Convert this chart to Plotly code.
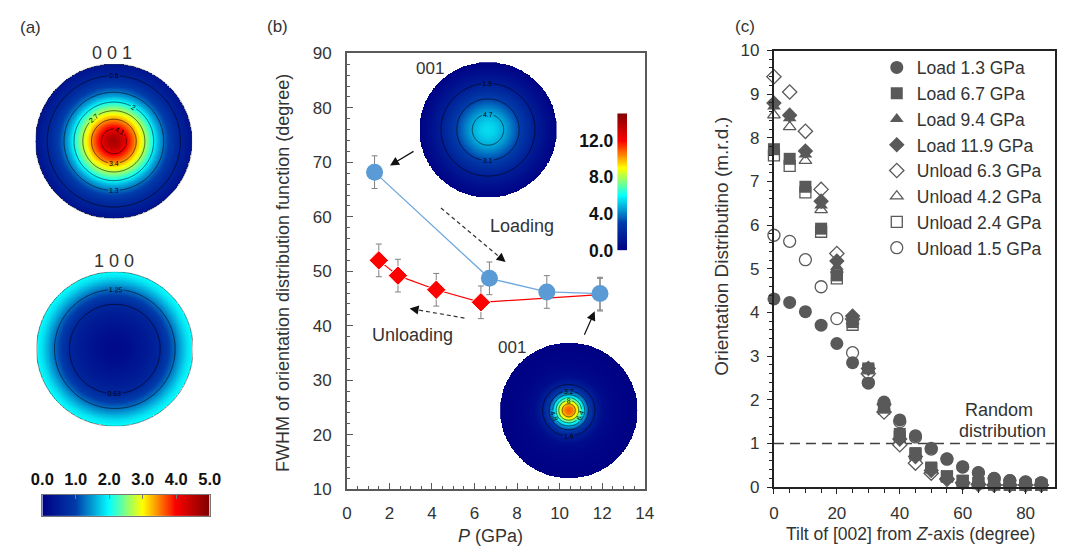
import numpy as np
import plotly.graph_objects as go

W, H = 1067, 558
def fx(p): return p / W
def fy(p): return 1 - p / H

FONT = "Arial, 'Liberation Sans', sans-serif"
TXT = "#333333"
GRAY = "#595959"

# ---------------- (b) FWHM vs pressure ----------------
load_P = [1.3, 6.7, 9.4, 11.9]
load_fwhm = [68.2, 48.7, 46.2, 45.9]
load_err = [3.0, 3.0, 3.0, 3.0]
unload_P = [11.9, 6.3, 4.2, 2.4, 1.5]
unload_fwhm = [45.7, 44.3, 46.6, 49.2, 52.0]
unload_err = [3.0, 3.0, 3.0, 3.0, 3.0]

# ---------------- (c) orientation distribution ----------------
tilt = [0, 5, 10, 15, 20, 25, 30, 35, 40, 45, 50, 55, 60, 65, 70, 75, 80, 85, 90]
load_1_3 = [4.31, 4.23, 4.02, 3.71, 3.29, 2.85, 2.38, 1.95, 1.54, 1.18, 0.89, 0.65, 0.47, 0.33, 0.2, 0.15, 0.12, 0.1, 0.08]
load_6_7 = [7.74, 7.52, 6.88, 5.92, 4.85, 3.78, 2.72, 1.82, 1.22, 0.78, 0.45, 0.25, 0.15, 0.1, 0.07, 0.06, 0.05, 0.05, 0.05]
load_9_4 = [8.72, 8.45, 7.62, 6.45, 5.05, 3.88, 2.7, 1.85, 1.15, 0.72, 0.4, 0.22, 0.12, 0.08, 0.06, 0.05, 0.05, 0.05, 0.05]
load_11_9 = [8.8, 8.52, 7.7, 6.55, 5.18, 3.92, 2.72, 1.9, 1.1, 0.7, 0.38, 0.2, 0.1, 0.07, 0.05, 0.05, 0.05, 0.05, 0.05]
unload_6_3 = [9.4, 9.05, 8.15, 6.82, 5.35, 3.85, 2.6, 1.72, 0.97, 0.55, 0.32, 0.18, 0.1, 0.06, 0.05, 0.05, 0.05, 0.05, 0.05]
unload_4_2 = [8.52, 8.25, 7.48, 6.35, 4.98, 3.8, 2.65, 1.78, 1.05, 0.62, 0.36, 0.2, 0.11, 0.07, 0.05, 0.05, 0.05, 0.05, 0.05]
unload_2_4 = [7.6, 7.36, 6.75, 5.85, 4.78, 3.72, 2.68, 1.8, 1.15, 0.75, 0.42, 0.24, 0.14, 0.09, 0.06, 0.05, 0.05, 0.05, 0.05]
unload_1_5 = [5.77, 5.63, 5.21, 4.59, 3.86, 3.08, 2.4, 1.9, 1.5, 1.15, 0.87, 0.64, 0.46, 0.33, 0.2, 0.15, 0.12, 0.1, 0.08]

# ---------------- pole figures: radial profiles (normalised radius, m.r.d.) ----------------
pf_a001_r = [0.0, 0.08, 0.18, 0.27, 0.34, 0.42, 0.5, 0.58, 0.68, 0.8, 1.0]
pf_a001_v = [4.7, 4.5, 4.0, 3.5, 3.05, 2.55, 2.05, 1.55, 1.1, 0.7, 0.3]
pf_a100_r = [0.0, 0.2, 0.4, 0.58, 0.77, 0.86, 0.93, 1.0]
pf_a100_v = [0.15, 0.25, 0.42, 0.63, 1.25, 1.6, 1.85, 2.0]
pf_b_load_r = [0.0, 0.1, 0.25, 0.4, 0.55, 0.7, 0.85, 1.0]
pf_b_load_v = [5.5, 5.3, 4.6, 3.5, 2.4, 1.4, 0.7, 0.15]
pf_b_high_r = [0.0, 0.06, 0.12, 0.18, 0.24, 0.3, 0.38, 0.5, 0.7, 1.0]
pf_b_high_v = [11.0, 10.5, 9.0, 6.6, 4.5, 2.8, 1.6, 0.6, 0.2, 0.05]

fig = go.Figure()

N = 241
g = np.linspace(-1, 1, N)
XX, YY = np.meshgrid(g, g)
RR = np.sqrt(XX ** 2 + YY ** 2)


def add_pole(idx, r_prof, v_prof, cax, lv, cx, cy, rad, outline):
    z = np.interp(RR, r_prof, v_prof)
    zin = np.where(RR <= 1.0, z, np.nan)
    xa, ya = f"x{idx}", f"y{idx}"
    fig.add_trace(go.Heatmap(x=g, y=g, z=zin, coloraxis=cax, xaxis=xa, yaxis=ya,
                             hoverinfo="skip", showlegend=False))
    fig.add_trace(go.Contour(x=g, y=g, z=z, autocontour=False,
                             contours=dict(coloring="none", start=lv[0], end=lv[1], size=lv[2],
                                           showlabels=True,
                                           labelfont=dict(size=7, color="black", family=FONT)),
                             line=dict(color="black", width=0.6), showscale=False,
                             xaxis=xa, yaxis=ya, hoverinfo="skip", showlegend=False))
    fig.layout[f"xaxis{idx}"] = dict(domain=[fx(cx - rad), fx(cx + rad)], range=[-1, 1],
                                     visible=False, anchor=ya)
    fig.layout[f"yaxis{idx}"] = dict(domain=[fy(cy + rad), fy(cy - rad)], range=[-1, 1],
                                     visible=False, anchor=xa)
    if outline:
        fig.add_shape(type="circle", xref=xa, yref=ya, x0=-1, x1=1, y0=-1, y1=1,
                      line=dict(color="rgba(60,60,60,0.7)", width=0.8))


# ---------------- (b) main traces ----------------
fig.add_trace(go.Scatter(x=unload_P, y=unload_fwhm, mode="lines+markers",
                         line=dict(color="#FF0000", width=1.2),
                         marker=dict(symbol="diamond", size=[0, 15, 15, 15, 15],
                                     color="#FF0000", opacity=1),
                         error_y=dict(type="data", array=unload_err, color="#808080",
                                      thickness=1, width=3),
                         xaxis="x", yaxis="y", showlegend=False))
fig.add_trace(go.Scatter(x=load_P, y=load_fwhm, mode="lines+markers",
                         line=dict(color="#6FA8DC", width=1.3),
                         marker=dict(symbol="circle", size=17, color="#5B9BD5"),
                         error_y=dict(type="data", array=load_err, color="#808080",
                                      thickness=1, width=3),
                         xaxis="x", yaxis="y", showlegend=False))

# ---------------- (c) traces ----------------
series_c = [
    ("Unload 1.5 GPa", unload_1_5, "circle", 12, False, 8),
    ("Unload 2.4 GPa", unload_2_4, "square", 11, False, 7),
    ("Unload 4.2 GPa", unload_4_2, "triangle-up", 11, False, 6),
    ("Unload 6.3 GPa", unload_6_3, "diamond", 11, False, 5),
    ("Load 11.9 GPa", load_11_9, "diamond", 12, True, 4),
    ("Load 9.4 GPa", load_9_4, "triangle-up", 12, True, 3),
    ("Load 6.7 GPa", load_6_7, "square", 12, True, 2),
    ("Load 1.3 GPa", load_1_3, "circle", 13, True, 1),
]
for name, vals, sym, size, filled, rank in series_c:
    fig.add_trace(go.Scatter(
        x=tilt, y=vals, mode="markers", name=name, legendrank=rank,
        marker=dict(symbol=sym, size=size,
                    color=GRAY if filled else "white",
                    line=dict(color=GRAY, width=0 if filled else 1.3)),
        cliponaxis=False, xaxis="x2", yaxis="y2"))

# ---------------- pole figures ----------------
add_pole(3, pf_a001_r, pf_a001_v, "coloraxis", (0.6, 4.1, 0.7), 105, 137, 80, True)
add_pole(4, pf_a100_r, pf_a100_v, "coloraxis", (0.63, 1.25, 0.62), 106, 352, 80, True)
add_pole(5, pf_b_load_r, pf_b_load_v, "coloraxis2", (1.5, 4.7, 1.6), 487, 125, 70, False)
add_pole(6, pf_b_high_r, pf_b_high_v, "coloraxis2", (1.6, 9.6, 1.6), 569.5, 415.5, 70, False)

# ---------------- colour bars drawn as gradient strips ----------------
cba = np.linspace(0, 5, 257)
fig.add_trace(go.Heatmap(x=cba, y=[-0.5, 0.5], z=[(cba[:-1] + cba[1:]) / 2],
                         coloraxis="coloraxis", xaxis="x7", yaxis="y7",
                         hoverinfo="skip", showlegend=False))
cbb = np.linspace(0, 15, 257)
fig.add_trace(go.Heatmap(x=[-0.5, 0.5], y=cbb, z=[[v] for v in (cbb[:-1] + cbb[1:]) / 2],
                         coloraxis="coloraxis2", xaxis="x8", yaxis="y8",
                         hoverinfo="skip", showlegend=False))

cba_ticks = [0, 1, 2, 3, 4, 5]
cbb_ticks = [0, 4, 8, 12]

fig.update_layout(
    xaxis7=dict(domain=[fx(32), fx(203)], range=[0, 5], side="top", anchor="y7",
                tickvals=cba_ticks, ticktext=[f"{v:.1f}" for v in cba_ticks],
                tickfont=dict(size=16.5, color="#111", weight="bold"),
                ticks="inside", ticklen=4, tickcolor="#777", ticklabelstandoff=2,
                showline=True, mirror=True, linecolor="#777", linewidth=1,
                showgrid=False, zeroline=False),
    yaxis7=dict(domain=[fy(525), fy(503)], range=[-0.5, 0.5], anchor="x7",
                showticklabels=False, ticks="", showline=True, mirror=True,
                linecolor="#777", linewidth=1, showgrid=False, zeroline=False),
    xaxis8=dict(domain=[fx(619), fx(629)], range=[-0.5, 0.5], anchor="y8",
                showticklabels=False, ticks="", showline=False,
                showgrid=False, zeroline=False),
    yaxis8=dict(domain=[fy(250), fy(108)], range=[0, 15], anchor="x8", side="left",
                tickvals=cbb_ticks, ticktext=[f"{v:.1f}" for v in cbb_ticks],
                tickfont=dict(size=17.5, color="#111", weight="bold"),
                ticks="", ticklabelstandoff=3,
                showline=False, showgrid=False, zeroline=False),
)

# ---------------- axes (b) and (c) ----------------
fig.update_layout(
    xaxis=dict(domain=[fx(343), fx(647)], range=[0, 14], dtick=2, anchor="y",
               ticks="inside", ticklen=6, tickcolor=GRAY, ticklabelstandoff=8,
               minor=dict(dtick=0.5, ticks="inside", ticklen=3, tickcolor=GRAY),
               showline=True, mirror=True, linecolor=GRAY, linewidth=1.5,
               showgrid=False, zeroline=False, tickfont=dict(size=17, color=TXT)),
    yaxis=dict(domain=[fy(497), fy(46)], range=[10, 90], dtick=10, anchor="x",
               ticks="inside", ticklen=6, tickcolor=GRAY, ticklabelstandoff=10,
               minor=dict(dtick=2, ticks="inside", ticklen=3, tickcolor=GRAY),
               showline=True, mirror=True, linecolor=GRAY, linewidth=1.5,
               showgrid=False, zeroline=False, tickfont=dict(size=17, color=TXT)),
    xaxis2=dict(domain=[fx(779), fx(1065.5)], range=[0, 89.2], dtick=20, anchor="y2",
                ticks="outside", ticklen=5, tickcolor="#222", ticklabelstandoff=4,
                minor=dict(dtick=5, ticks="outside", ticklen=4, tickcolor="#222"),
                showline=True, mirror=True, linecolor="#222", linewidth=2,
                showgrid=False, zeroline=False, tickfont=dict(size=17, color=TXT)),
    yaxis2=dict(domain=[fy(495), fy(43)], range=[0, 10], dtick=1, anchor="x2",
                ticks="outside", ticklen=5, tickcolor="#222", ticklabelstandoff=4,
                minor=dict(dtick=0.2, ticks="outside", ticklen=3, tickcolor="#222"),
                showline=True, mirror=True, linecolor="#222", linewidth=2,
                showgrid=False, zeroline=False, tickfont=dict(size=17, color=TXT)),
)

fig.add_shape(type="line", xref="x2 domain", yref="y2", x0=0, x1=1, y0=1, y1=1,
              line=dict(color="#404040", width=1.5, dash="10px,6px"), layer="below")

# dashed arrows (b)
def dashed_arrow(x0, y0, x1, y1):
    d = np.hypot(x1 - x0, y1 - y0)
    ux, uy = (x1 - x0) / d, (y1 - y0) / d
    fig.add_shape(type="line", xref="paper", yref="paper",
                  x0=fx(x0), y0=fy(y0), x1=fx(x1 - 8 * ux), y1=fy(y1 - 8 * uy),
                  line=dict(color="#333", width=1.2, dash="4px,3px"))
    fig.add_annotation(x=fx(x1), y=fy(y1), xref="paper", yref="paper", text="",
                       showarrow=True, ax=-10 * ux, ay=-10 * uy, arrowhead=2,
                       arrowsize=1.5, arrowwidth=1.2, arrowcolor="#111")

dashed_arrow(439, 206, 505, 262)
dashed_arrow(463, 320, 407, 310)

for (hx, hy, tx, ty) in [(387, 162, 412, 147), (596, 313, 585, 338)]:
    fig.add_annotation(x=fx(hx), y=fy(hy), xref="paper", yref="paper", text="",
                       showarrow=True, ax=tx - hx, ay=ty - hy, arrowhead=2,
                       arrowsize=1.5, arrowwidth=1.2, arrowcolor="#111")

texts = [
    ("(a)", 20, 19, 17, 0), ("(b)", 272, 18, 17, 0), ("(c)", 749, 18, 17, 0),
    ("0 0 1", 103, 46, 18, 0), ("1 0 0", 105, 261, 18, 0),
    ("001", 428, 62, 17, 0), ("001", 512, 350, 17, 0),
    ("Loading", 522, 225, 18, 0), ("Unloading", 410, 338, 18, 0),
    ("Random", 1009, 415, 18, 0), ("distribution", 1012, 437, 18, 0),
    ("<i>P</i> (GPa)", 490, 546, 18, 0),
    ("Tilt of [002] from <i>Z</i>-axis (degree)", 918, 543, 17.5, 0),
    ("FWHM of orientation distribution function (degree)", 277, 273, 18, -90),
    ("Orientation Distributino (m.r.d.)", 726, 246, 19, -90),
]
for t, x, y, s, rot in texts:
    fig.add_annotation(x=fx(x), y=fy(y), xref="paper", yref="paper", text=t,
                       showarrow=False, textangle=rot, xanchor="center", yanchor="middle",
                       font=dict(size=s, color=TXT, family=FONT))

fig.update_layout(
    width=W, height=H, margin=dict(l=0, r=0, t=0, b=0),
    paper_bgcolor="white", plot_bgcolor="rgba(0,0,0,0)",
    font=dict(family=FONT, color=TXT),
    coloraxis=dict(colorscale="Jet", cmin=0, cmax=5, showscale=False),
    coloraxis2=dict(colorscale="Jet", cmin=0, cmax=15, showscale=False),
    showlegend=True,
    legend=dict(x=fx(884), y=fy(42), xanchor="left", yanchor="top",
                bgcolor="rgba(0,0,0,0)", font=dict(size=17.5, color=TXT),
                tracegroupgap=0, itemclick=False),
)

fig.write_html("out.html")
